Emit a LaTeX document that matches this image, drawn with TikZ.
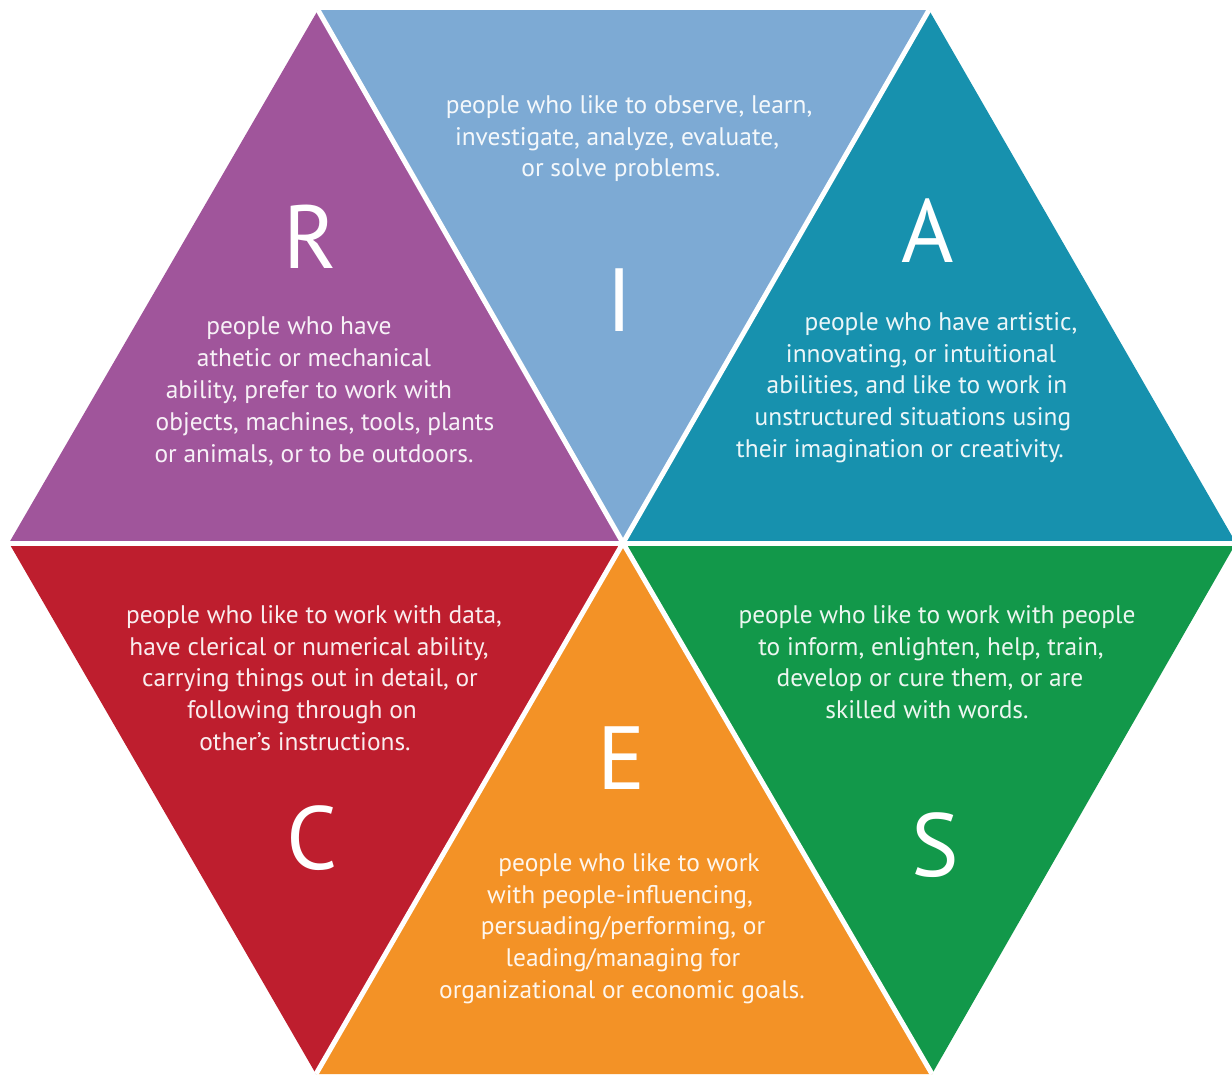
\documentclass[tikz,border=0pt]{standalone}
\usepackage{fontspec}
\setmainfont{PT Sans}
\definecolor{cpurple}{HTML}{A0559B}
\definecolor{cblue}{HTML}{7DAAD4}
\definecolor{cteal}{HTML}{1791AE}
\definecolor{cgreen}{HTML}{12984A}
\definecolor{corange}{HTML}{F39226}
\definecolor{cred}{HTML}{BE1E2E}
\newcommand\shiftln[1]{\hspace*{#1bp}}
\tikzset{
  sep/.style={draw=white, line width=5bp},
  big/.style={text=white, font=\fontsize{90}{90}\selectfont, inner sep=0pt},
  desc/.style={text=white, text opacity=0.92, align=center, inner sep=0pt,
    font=\fontsize{25.5}{32}\selectfont}
}
\begin{document}
\begin{tikzpicture}[x=1bp,y=-1bp]
\fill[white] (0,0) rectangle (1232,1075);
\useasboundingbox (0,0) rectangle (1232,1075);
\coordinate (c) at (623,543);
\coordinate (tl) at (318,10);
\coordinate (tr) at (929,10);
\coordinate (l) at (9,543);
\coordinate (r) at (1236,543);
\coordinate (bl) at (316,1074);
\coordinate (br) at (932,1074);
\fill[cpurple] (c) -- (tl) -- (l) -- cycle;
\fill[cblue] (c) -- (tl) -- (tr) -- cycle;
\fill[cteal] (c) -- (tr) -- (r) -- cycle;
\fill[cgreen] (c) -- (r) -- (br) -- cycle;
\fill[corange] (c) -- (br) -- (bl) -- cycle;
\fill[cred] (c) -- (bl) -- (l) -- cycle;
\draw[sep] (c) -- (tl);
\draw[sep] (c) -- (tr);
\draw[sep] (c) -- (r);
\draw[sep] (c) -- (br);
\draw[sep] (c) -- (bl);
\draw[sep] (c) -- (l);

\node[big] (R) at (310,237) {R};
\node[big] (I) at (620,300) {I};
\node[big] (A) at (928,231) {A};
\node[big] (C) at (312,838) {C};
\node[big] (E) at (622,758) {E};
\node[big] (S) at (935,845) {S};

\node[desc, anchor=north] (ti) at (622,95) {\shiftln{14}people who like to observe, learn,\\\shiftln{-10}investigate, analyze, evaluate,\\\shiftln{-2}or solve problems.};
\node[desc, anchor=north] (tr1) at (314,317) {\shiftln{-30}people who have\\athetic or mechanical\\\shiftln{-10}ability, prefer to work with\\\shiftln{22}objects, machines, tools, plants\\or animals, or to be outdoors.};
\node[desc, anchor=north] (ta) at (913,312) {\shiftln{56}people who have artistic,\\\shiftln{16}innovating, or intuitional\\\shiftln{8}abilities, and like to work in\\unstructured situations using\\\shiftln{-26}their imagination or creativity.};
\node[desc, anchor=north] (tc) at (309,605) {\shiftln{10}people who like to work with data,\\have clerical or numerical ability,\\\shiftln{2}carrying things out in detail, or\\\shiftln{-14}following through on\\\shiftln{-8}other's instructions.};
\node[desc, anchor=north] (ts) at (931,605) {\shiftln{12}people who like to work with people\\to inform, enlighten, help, train,\\\shiftln{-2}develop or cure them, or are\\\shiftln{-8}skilled with words.};
\node[desc, anchor=north] (te) at (622,853) {\shiftln{14}people who like to work\\\shiftln{-4}with people-influencing,\\\shiftln{2}persuading/performing, or\\\shiftln{2}leading/managing for\\organizational or economic goals.};
\end{tikzpicture}
\end{document}
